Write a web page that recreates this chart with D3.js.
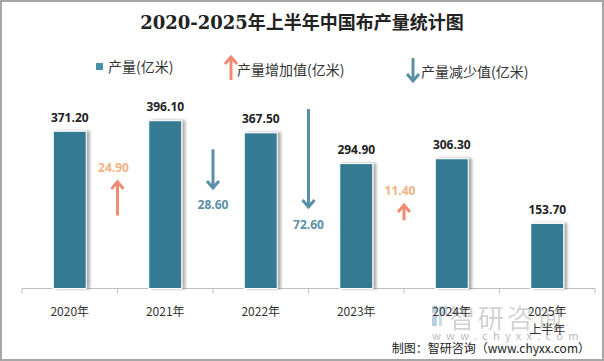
<!DOCTYPE html>
<html><head><meta charset="utf-8">
<script src="https://cdn.jsdelivr.net/npm/d3@7/dist/d3.min.js"></script>
<style>
html,body{margin:0;padding:0;background:#fff;}
svg{display:block;font-family:"Noto Sans CJK SC","Microsoft YaHei",sans-serif;}
</style></head>
<body>
<svg id="chart" width="604" height="361"></svg>
<script>
const categories = ["2020年","2021年","2022年","2023年","2024年","2025年\n上半年"];
const production = [371.2, 396.1, 367.5, 294.9, 306.3, 153.7];
// changes between consecutive years (positive = increase, negative = decrease)
const changes = [24.9, -28.6, -72.6, 11.4];
// vertical midpoints of the change arrows, in production units
const arrowMids = [212, 283, 308, 179];

const W = 604, H = 361;
const svg = d3.select("#chart");
const defs = svg.append("defs");
const f = defs.append("filter").attr("id","sh").attr("x","-20%").attr("y","-10%").attr("width","160%").attr("height","130%");
f.append("feDropShadow").attr("dx",3).attr("dy",0).attr("stdDeviation",1.8).attr("flood-color","#000").attr("flood-opacity",0.35);

// border
svg.append("rect").attr("x",1).attr("y",1).attr("width",W-2).attr("height",H-2)
  .attr("fill","none").attr("stroke","#a6a6a6").attr("stroke-width",2);

// title
svg.append("text").attr("x",302).attr("y",22).attr("text-anchor","middle").attr("dominant-baseline","central")
  .attr("font-size",18).attr("font-weight","bold").attr("fill","#222")
  .attr("font-family","'DejaVu Serif','Noto Sans CJK SC',serif")
  .text("2020-2025年上半年中国布产量统计图");

const x = d3.scaleBand().domain(categories).range([22,595]).padding(0);
const y = d3.scaleLinear().domain([0,450]).range([288.5, 97.9]);
const arrowLen = d3.scaleLinear().domain([0,1]).range([0,1.35]);
const barW = x.bandwidth()*0.345;

const barColor = "#367a93", upColor = "#ef8a73", downColor = "#5a8fa6";

// watermark (behind labels)
const wm = svg.append("g").attr("opacity",0.6);
wm.append("rect").attr("x",432).attr("y",306).attr("width",5).attr("height",7).attr("fill","#8fb0d0");
wm.append("rect").attr("x",432).attr("y",316).attr("width",5).attr("height",10).attr("fill","#8fb0d0");
wm.append("path").attr("d","M439,306h8v9h-5v11h-3z").attr("fill","#a8c4e0");
wm.append("text").attr("x",449).attr("y",316).attr("dominant-baseline","central").attr("font-size",26).attr("fill","#b5b5b5").attr("letter-spacing",3).text("智研咨询");
svg.append("text").attr("x",432).attr("y",335).attr("dominant-baseline","central").attr("font-size",11).attr("fill","#bdbdbd").attr("letter-spacing",5.3).text("www.chyxx.com");

// axis
const axisG = svg.append("g").attr("transform","translate(0,288.5)");
axisG.append("line").attr("x1",22).attr("x2",595).attr("stroke","#bfbfbf");
const tickXs = categories.map(c=>x(c)).concat([595]);
axisG.selectAll("line.t").data(tickXs).join("line").attr("class","t")
  .attr("x1",d=>d).attr("x2",d=>d).attr("y1",0).attr("y2",5).attr("stroke","#bfbfbf");

// bars
svg.append("g").selectAll("rect").data(production).join("rect")
  .attr("x",(d,i)=>x(categories[i])+x.bandwidth()/2-barW/2)
  .attr("y",d=>y(d)).attr("width",barW).attr("height",d=>y(0)-y(d))
  .attr("fill",barColor).attr("stroke","#fff").attr("stroke-width",1).attr("filter","url(#sh)");

// bar labels
svg.append("g").selectAll("text").data(production).join("text")
  .attr("x",(d,i)=>x(categories[i])+x.bandwidth()/2)
  .attr("y",d=>y(d)-14).attr("text-anchor","middle").attr("dominant-baseline","central")
  .attr("font-size",12).attr("font-weight","bold").attr("fill","#222")
  .attr("font-family","'Open Sans','Noto Sans',sans-serif")
  .text(d=>d.toFixed(2));

// x labels
const xl = svg.append("g").selectAll("text").data(categories).join("text")
  .attr("x",d=>x(d)+x.bandwidth()/2).attr("y",310).attr("text-anchor","middle")
  .attr("dominant-baseline","central").attr("font-size",12).attr("fill","#333");
xl.each(function(d){
  const t=d3.select(this);
  d.split("\n").forEach((s,k)=>t.append("tspan").attr("x",x(d)+x.bandwidth()/2).attr("dy",k?18:0).text(s));
});

// arrows
function drawArrow(g, cx, y1, y2, color, sw){
  const dir = y2>y1?1:-1;
  g.append("line").attr("x1",cx).attr("x2",cx).attr("y1",y1).attr("y2",y2-dir*1.5)
    .attr("stroke",color).attr("stroke-width",sw);
  g.append("path").attr("d",`M${cx-6},${y2-dir*7}L${cx},${y2}L${cx+6},${y2-dir*7}`)
    .attr("fill","none").attr("stroke",color).attr("stroke-width",sw).attr("stroke-linejoin","miter");
}
const ag = svg.append("g");
changes.forEach((c,i)=>{
  const cx = x(categories[i+1]);
  const mid = y(arrowMids[i]);
  const L = arrowLen(Math.abs(c));
  const up = c>0;
  const tail = up? mid+L/2 : mid-L/2;
  const tip = up? mid-L/2 : mid+L/2;
  drawArrow(ag, cx, tail, tip, up?upColor:downColor, 3);
  ag.append("text").attr("x", up? cx-4 : cx).attr("y", up? tip-14 : tip+17)
    .attr("text-anchor","middle").attr("dominant-baseline","central")
    .attr("font-size",12).attr("font-weight","bold")
    .attr("font-family","'Open Sans','Noto Sans',sans-serif")
    .attr("fill", up? "#f4b183" : "#5a8fa6").text(Math.abs(c).toFixed(2));
});

// legend
const lg = svg.append("g");
lg.append("rect").attr("x",96).attr("y",63).attr("width",7).attr("height",7).attr("fill","#4a90a8");
lg.append("text").attr("x",108).attr("y",66).attr("dominant-baseline","central").attr("font-size",14).attr("fill","#333").text("产量(亿米)");
drawArrow(lg, 231, 80, 57, upColor, 3);
lg.append("text").attr("x",237).attr("y",68.5).attr("dominant-baseline","central").attr("font-size",14).attr("fill","#333").text("产量增加值(亿米)");
drawArrow(lg, 413, 58, 81, downColor, 3);
lg.append("text").attr("x",421).attr("y",71).attr("dominant-baseline","central").attr("font-size",14).attr("fill","#333").text("产量减少值(亿米)");

// footer
svg.append("text").attr("x",590).attr("y",347).attr("text-anchor","end").attr("dominant-baseline","central")
  .attr("font-size",12).attr("fill","#222").text("制图：智研咨询（www.chyxx.com）");
</script>
</body></html>
